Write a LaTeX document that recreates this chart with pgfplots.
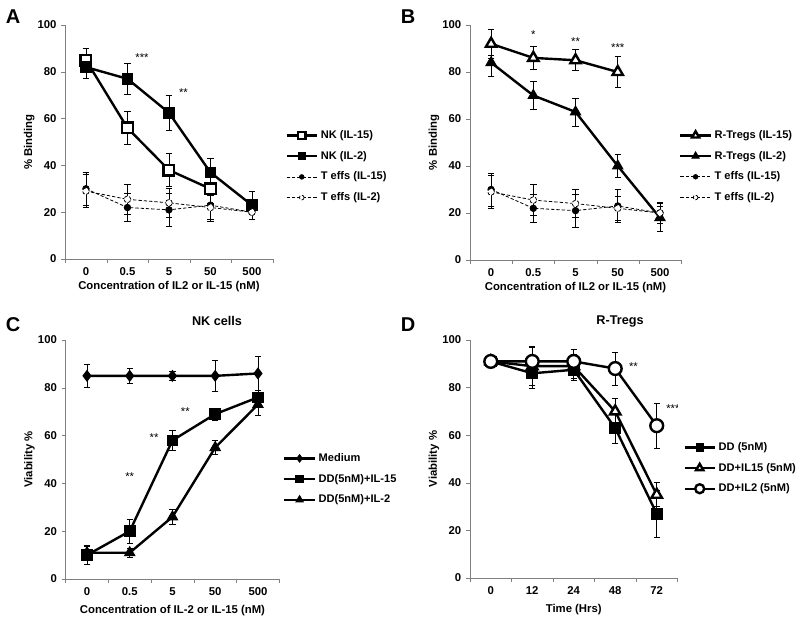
\documentclass[border=0pt]{standalone}
\usepackage{fontspec}
\setmainfont{Liberation Sans}
\usepackage{pgfplots}
\pgfplotsset{compat=1.18}

\newcommand{\lbl}{\bfseries\fontsize{8.5}{10}\selectfont}
\newcommand{\leg}{\bfseries\fontsize{8.3}{10}\selectfont}
\tikzset{sig/.style={font=\fontsize{8.5}{10}\selectfont}}

\pgfplotsset{
  panel/.style={
    scale only axis,
    axis x line=bottom, axis y line=left,
    axis line style={-, gray},
    ymin=0, ymax=100, ytick={0,20,...,100},
    xmin=-0.5, xmax=4.5, xtick={0,...,4},
    minor xtick={-0.5,0.5,...,4.5},
    major x tick style={draw=none},
    minor x tick style={gray},
    y tick style={gray},
    tick align=outside, major tick length=3pt, minor tick length=3pt,
    tick label style={font=\lbl, black},
    label style={font=\lbl},
    ylabel style={yshift=-4.5pt},
    /pgf/number format/assume math mode=true,
    legend cell align=left,
    legend style={draw=none, fill=none, font=\leg, anchor=west,
      row sep=4pt, inner sep=0pt},
    legend image code/.code={\draw[mark repeat=2,mark phase=2,
      every mark/.append style={scale=0.7}]
      plot coordinates {(0cm,0cm)(0.4cm,0cm)(0.8cm,0cm)};},
    error bars/y dir=both, error bars/y explicit,
    error bars/error mark options={rotate=90, mark size=2.4pt, black, solid, line width=0.5pt},
    error bars/error bar style={black, solid, line width=0.5pt},
  },
  thick line/.style={black, line width=1.8pt, mark options={solid, line width=0.7pt}},
  dash line/.style={black, line width=0.6pt, dash pattern=on 2.5pt off 1.5pt,
    mark options={solid, line width=0.5pt}},
}

\begin{document}
\begin{tikzpicture}

% ---------------- A ----------------
\begin{axis}[panel, at={(48.9pt,272.25pt)}, anchor=south west,
  width=155.6pt, height=175.5pt,
  xticklabels={0,0.5,5,50,500},
  xlabel={Concentration of IL2 or IL-15 (nM)}, ylabel={\% Binding},
  xlabel style={yshift=2.5pt},
  legend style={at={(axis description cs:1.06,0.395)}}]
\addplot[thick line, mark=square*, mark size=4pt, mark options={fill=white}]
  coordinates {(0,85) +- (0,5) (1,56) +- (0,7) (2,38) +- (0,7) (3,30) +- (0,6)};
\addlegendentry{NK (IL-15)}
\addplot[thick line, mark=square*, mark size=4pt]
  coordinates {(0,82) +- (0,5) (1,77) +- (0,6.5) (2,62.5) +- (0,7.5) (3,37) +- (0,6) (4,23) +- (0,6)};
\addlegendentry{NK (IL-2)}
\addplot[dash line, mark=*, mark size=2.5pt]
  coordinates {(0,30) +- (0,7) (1,22) +- (0,6) (2,21) +- (0,7) (3,23) +- (0,7) (4,20) +- (0,3)};
\addlegendentry{T effs (IL-15)}
\addplot[dash line, mark=*, mark size=2.5pt, mark options={fill=white}]
  coordinates {(0,29) +- (0,7) (1,25.5) +- (0,6.5) (2,24) +- (0,6) (3,22) +- (0,5) (4,20) +- (0,3)};
\addlegendentry{T effs (IL-2)}
\node[sig] at (axis cs:1.35,86) {***};
\node[sig] at (axis cs:2.35,71) {**};
\end{axis}

% ---------------- B ----------------
\begin{axis}[panel, at={(352.5pt,271.5pt)}, anchor=south west,
  width=158.3pt, height=176.25pt,
  xticklabels={0,0.5,5,50,500},
  xlabel={Concentration of IL2 or IL-15 (nM)}, ylabel={\% Binding},
  xlabel style={yshift=2.5pt},
  legend style={at={(axis description cs:0.99,0.398)}}]
\addplot[thick line, mark=triangle*, mark size=4.5pt, mark options={fill=white}]
  coordinates {(0,92) +- (0,6) (1,86) +- (0,5) (2,85) +- (0,4.5) (3,80) +- (0,6.5)};
\addlegendentry{R-Tregs (IL-15)}
\addplot[thick line, mark=triangle*, mark size=4.5pt]
  coordinates {(0,84) += (0,3) -= (0,6) (1,70) +- (0,6) (2,63) +- (0,6) (3,40) +- (0,5) (4,18) +- (0,6)};
\addlegendentry{R-Tregs (IL-2)}
\addplot[dash line, mark=*, mark size=2.5pt]
  coordinates {(0,30) +- (0,7) (1,22) +- (0,6) (2,21) +- (0,7) (3,23) +- (0,7) (4,20) +- (0,3)};
\addlegendentry{T effs (IL-15)}
\addplot[dash line, mark=*, mark size=2.5pt, mark options={fill=white}]
  coordinates {(0,29) +- (0,7) (1,25.5) +- (0,6.5) (2,24) +- (0,6) (3,22) +- (0,5) (4,20) +- (0,4.5)};
\addlegendentry{T effs (IL-2)}
\node[sig] at (axis cs:1,96) {*};
\node[sig] at (axis cs:2,93) {**};
\node[sig] at (axis cs:3,90.5) {***};
\end{axis}

% ---------------- C ----------------
\begin{axis}[panel, at={(49.2pt,32.25pt)}, anchor=south west,
  width=160.3pt, height=179.25pt,
  xticklabels={0,0.5,5,50,500},
  xlabel={Concentration of IL-2 or IL-15 (nM)}, ylabel={Viability \%},
  legend style={at={(axis description cs:1.017,0.418)}}]
\addplot[thick line, mark=diamond*, mark size=4pt]
  coordinates {(0,85) +- (0,5) (1,85) +- (0,3) (2,85) +- (0,2) (3,85) +- (0,6.5) (4,86) +- (0,7)};
\addlegendentry{Medium}
\addplot[thick line, mark=square*, mark size=4pt]
  coordinates {(0,10) +- (0,4) (1,20) +- (0,5) (2,58) +- (0,4) (3,69) +- (0,2.5) (4,76) +- (0,3)};
\addlegendentry{DD(5nM)+IL-15}
\addplot[thick line, mark=triangle*, mark size=4.5pt]
  coordinates {(0,11) +- (0,2.5) (1,11) +- (0,2) (2,26) +- (0,3) (3,55) +- (0,3) (4,73) +- (0,4.5)};
\addlegendentry{DD(5nM)+IL-2}
\node[sig] at (axis cs:1,43) {**};
\node[sig] at (axis cs:1.57,59) {**};
\node[sig] at (axis cs:2.3,70) {**};
\end{axis}

% ---------------- D ----------------
\begin{axis}[panel, at={(352.5pt,33pt)}, anchor=south west,
  width=155.6pt, height=178.5pt,
  xticklabels={0,12,24,48,72},
  xlabel={Time (Hrs)}, ylabel={Viability \%},
  legend style={at={(axis description cs:1.027,0.462)}}]
\addplot[thick line, mark=square*, mark size=4pt]
  coordinates {(0,91) +- (0,1) (1,86) +- (0,6.5) (2,87.5) +- (0,4.5) (3,63) +- (0,6.5) (4,27) +- (0,10)};
\addlegendentry{DD (5nM)}
\addplot[thick line, mark=triangle*, mark size=4.5pt, mark options={fill=white}]
  coordinates {(0,91) +- (0,1) (1,89) +- (0,8) (2,89) +- (0,5) (3,70) +- (0,5.5) (4,35) +- (0,5)};
\addlegendentry{DD+IL15 (5nM)}
\addplot[thick line, mark=*, mark size=4.8pt, mark options={fill=white}]
  coordinates {(0,91) +- (0,1) (1,91) +- (0,6.5) (2,91) +- (0,5) (3,88) +- (0,7) (4,64) +- (0,9.5)};
\addlegendentry{DD+IL2 (5nM)}
\node[sig] at (axis cs:3.44,88.8) {**};
\node[sig] at (axis cs:4.39,71) {***};
\end{axis}

% panel letters and titles
\node[font=\bfseries\fontsize{15}{17}\selectfont] at (9.75pt,453.75pt) {A};
\node[font=\bfseries\fontsize{15}{17}\selectfont] at (306pt,453.75pt) {B};
\node[font=\bfseries\fontsize{15}{17}\selectfont] at (9.75pt,222.75pt) {C};
\node[font=\bfseries\fontsize{15}{17}\selectfont] at (306pt,222.75pt) {D};
\node[font=\bfseries\fontsize{9.5}{11}\selectfont] at (162.75pt,225.75pt) {NK cells};
\node[font=\bfseries\fontsize{9.5}{11}\selectfont] at (465pt,225.75pt) {R-Tregs};

\pgfresetboundingbox
\path[use as bounding box] (0,0) rectangle (600pt,466.5pt);
\end{tikzpicture}
\end{document}
